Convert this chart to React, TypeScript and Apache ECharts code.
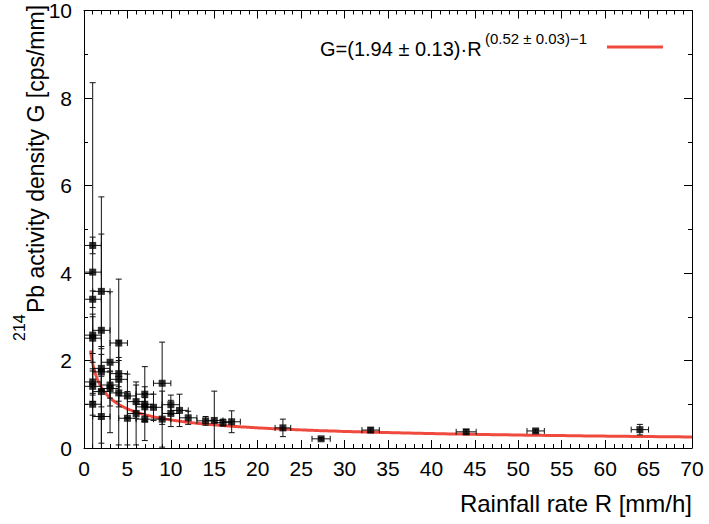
import React, { useEffect, useRef } from "react";
import * as echarts from "echarts";

// Measured data: rainfall rate R [mm/h], activity density G [cps/mm], errors
const rainRate = [1, 1, 1, 1, 1, 1, 1, 1, 2, 2, 2, 2, 2, 2, 3, 3, 3, 4, 4, 4, 4, 5, 5, 6, 6, 7, 7, 7, 7, 8, 9, 9, 10, 10, 11, 12, 14, 15, 16, 17, 22.9, 27.3, 33.0, 44.0, 52.0, 64.0];
const density = [4.63, 4.02, 3.40, 2.58, 2.51, 1.51, 1.41, 1.00, 3.58, 2.69, 1.82, 1.74, 1.29, 0.72, 1.96, 1.44, 1.36, 2.40, 1.70, 1.57, 1.26, 1.19, 0.68, 1.06, 0.79, 1.23, 1.00, 0.94, 0.66, 0.93, 1.48, 0.66, 0.99, 0.79, 0.86, 0.69, 0.62, 0.63, 0.58, 0.60, 0.46, 0.21, 0.41, 0.37, 0.39, 0.42];
const densityErr = [0.19, 4.33, 0.19, 0.42, 0.55, 0.30, 0.35, 0.25, 1.31, 3.05, 0.50, 0.40, 0.35, 0.61, 1.61, 0.30, 0.40, 1.46, 0.30, 0.50, 1.19, 0.50, 0.61, 0.38, 0.72, 0.63, 0.40, 0.30, 0.49, 0.30, 0.94, 0.64, 0.22, 0.30, 0.37, 0.15, 0.10, 0.67, 0.08, 0.25, 0.20, 0.03, 0.05, 0.05, 0.04, 0.12];
const rainErr = [1, 1, 1, 1, 1, 1, 1, 1, 1, 1, 1, 1, 1, 1, 1, 1, 1, 1, 1, 1, 1, 1, 1, 1, 1, 1, 1, 1, 1, 1, 1, 1, 1, 1, 1, 1, 1, 1, 1, 1, 0.9, 1.05, 1.0, 1.15, 1.0, 1.0];

// Fit parameters: G = A * R^(B - 1)
const fitA = 1.94;
const fitB = 0.52;
const fitRange = [0.75, 70];

const xTicks = [0, 5, 10, 15, 20, 25, 30, 35, 40, 45, 50, 55, 60, 65, 70];
const yTicks = [0, 2, 4, 6, 8, 10];

const FONT = "'Liberation Sans', Arial, Helvetica, sans-serif";
const RED = "#f04a3e";

export default function App() {
  const ref = useRef<HTMLDivElement>(null);
  useEffect(() => {
    document.body.style.margin = "0";
    if (!ref.current) return;
    const chart = echarts.init(ref.current, undefined, { renderer: "svg" });

    const errData = rainRate.map((r, i) => [r, density[i], rainErr[i], densityErr[i]]);
    const pts = rainRate.map((r, i) => [r, density[i]]);
    const fitPts: number[][] = [];
    const n = 400;
    for (let k = 0; k <= n; k++) {
      const t = k / n;
      const r = fitRange[0] * Math.pow(fitRange[1] / fitRange[0], t);
      fitPts.push([r, fitA * Math.pow(r, fitB - 1)]);
    }

    const cap = 3;
    const renderItem = (params: any, api: any) => {
      const x = api.value(0), y = api.value(1), ex = api.value(2), ey = api.value(3);
      const c = api.coord([x, y]);
      const t = api.coord([x, y + ey]);
      const b = api.coord([x, y - ey]);
      const l = api.coord([x - ex, y]);
      const r = api.coord([x + ex, y]);
      const st = { stroke: "#111", lineWidth: 1, fill: null };
      const ln = (x1: number, y1: number, x2: number, y2: number) => ({
        type: "line",
        shape: { x1, y1, x2, y2 },
        style: st,
      });
      return {
        type: "group",
        children: [
          ln(c[0], t[1], c[0], b[1]),
          ln(c[0] - cap, t[1], c[0] + cap, t[1]),
          ln(c[0] - cap, b[1], c[0] + cap, b[1]),
          ln(l[0], c[1], r[0], c[1]),
          ln(l[0], c[1] - cap, l[0], c[1] + cap),
          ln(r[0], c[1] - cap, r[0], c[1] + cap),
        ],
      };
    };

    const axisCommon = {
      axisLine: { show: true, onZero: false, lineStyle: { color: "#000", width: 1 } },
      splitLine: { show: false },
      axisTick: { show: true, inside: true, length: 8, lineStyle: { color: "#000" } },
      minorTick: { show: true, length: 4, lineStyle: { color: "#000" } },
    };

    chart.setOption({
      animation: false,
      grid: { left: 84, right: 17, top: 10, bottom: 76 },
      xAxis: [
        {
          type: "value",
          min: xTicks[0],
          max: xTicks[xTicks.length - 1],
          interval: 5,
          position: "bottom",
          ...axisCommon,
          minorTick: { ...axisCommon.minorTick, splitNumber: 5 },
          axisLabel: { show: true, color: "#000", fontSize: 21, fontFamily: FONT, margin: 10 },
        },
        {
          type: "value",
          min: xTicks[0],
          max: xTicks[xTicks.length - 1],
          interval: 5,
          position: "top",
          ...axisCommon,
          minorTick: { ...axisCommon.minorTick, splitNumber: 5 },
          axisLabel: { show: false },
        },
      ],
      yAxis: [
        {
          type: "value",
          min: yTicks[0],
          max: yTicks[yTicks.length - 1],
          interval: 2,
          position: "left",
          ...axisCommon,
          minorTick: { ...axisCommon.minorTick, splitNumber: 2 },
          axisLabel: { show: true, color: "#000", fontSize: 21, fontFamily: FONT, margin: 12 },
        },
        {
          type: "value",
          min: yTicks[0],
          max: yTicks[yTicks.length - 1],
          interval: 2,
          position: "right",
          ...axisCommon,
          minorTick: { ...axisCommon.minorTick, splitNumber: 2 },
          axisLabel: { show: false },
        },
      ],
      series: [
        {
          type: "line",
          data: fitPts,
          showSymbol: false,
          symbol: "none",
          lineStyle: { color: RED, width: 3 },
          clip: true,
          z: 2,
        },
        {
          type: "custom",
          data: errData,
          renderItem,
          clip: true,
          encode: { x: 0, y: 1 },
          z: 3,
        },
        {
          type: "scatter",
          data: pts,
          symbol: "rect",
          symbolSize: 7,
          itemStyle: { color: "#000" },
          z: 4,
        },
      ],
      graphic: [
        {
          type: "text",
          x: 320,
          y: 49,
          style: {
            text: "G=(1.94 ± 0.13)·R",
            font: `20px ${FONT}`,
            fill: "#000",
            textAlign: "left",
            align: "left",
            textVerticalAlign: "middle",
            verticalAlign: "middle",
          },
        },
        {
          type: "text",
          x: 485,
          y: 38,
          style: {
            text: "(0.52 ± 0.03)−1",
            font: `15px ${FONT}`,
            fill: "#000",
            textAlign: "left",
            align: "left",
            textVerticalAlign: "middle",
            verticalAlign: "middle",
          },
        },
        {
          type: "line",
          shape: { x1: 607, y1: 47, x2: 663, y2: 47 },
          style: { stroke: RED, lineWidth: 3 },
        },
        {
          type: "text",
          x: 692,
          y: 503,
          style: {
            text: "Rainfall rate R [mm/h]",
            font: `24px ${FONT}`,
            fill: "#000",
            textAlign: "right",
            align: "right",
            textVerticalAlign: "middle",
            verticalAlign: "middle",
          },
        },
        {
          type: "group",
          x: 36,
          y: 341,
          rotation: Math.PI / 2,
          children: [
            {
              type: "text",
              x: 0,
              y: -17,
              style: {
                text: "214",
                font: `16px ${FONT}`,
                fill: "#000",
                textAlign: "left",
                align: "left",
                textVerticalAlign: "middle",
                verticalAlign: "middle",
              },
            },
            {
              type: "text",
              x: 28,
              y: 0,
              style: {
                text: "Pb activity density G [cps/mm]",
                font: `23px ${FONT}`,
                fill: "#000",
                textAlign: "left",
                align: "left",
                textVerticalAlign: "middle",
                verticalAlign: "middle",
              },
            },
          ],
        },
      ],
    });
    return () => chart.dispose();
  }, []);
  return <div ref={ref} style={{ width: 709, height: 524 }} />;
}
